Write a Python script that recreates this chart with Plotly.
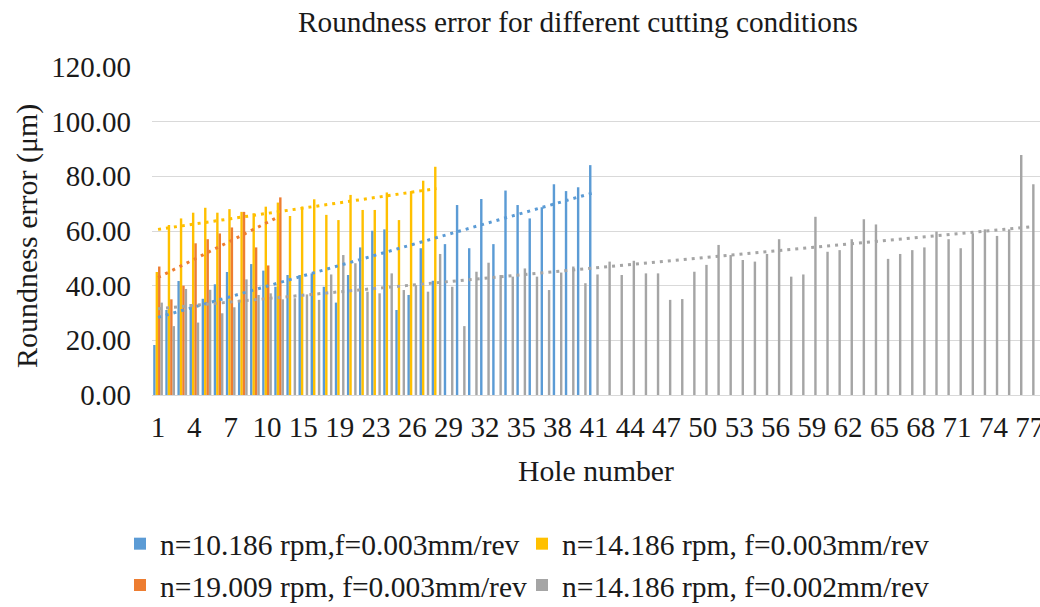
import numpy as np
import plotly.graph_objects as go

# ---- data ----
hole_labels = [str(v) for v in
               [1, 2, 3, 4, 5, 6, 7, 8, 9, 10, 12, 14, 15, 16, 17, 19, 20, 21, 23, 24, 25, 26]
               + list(range(27, 78))]

blue_name = "n=10.186 rpm,f=0.003mm/rev"
yellow_name = "n=14.186 rpm, f=0.003mm/rev"
orange_name = "n=19.009 rpm, f=0.003mm/rev"
gray_name = "n=14.186 rpm, f=0.002mm/rev"

blue_vals = [18.3, 31.1, 41.7, 33.3, 35.2, 40.5, 45.0, 34.8, 47.9, 45.5, 39.6, 43.9,
             43.9, 44.5, 39.6, 33.8, 43.9, 54.0, 60.1, 60.6, 31.1, 36.6, 53.7, 41.8,
             55.2, 69.5, 53.7, 71.7, 55.2, 74.8, 69.5, 64.6, 68.7, 77.1, 74.6, 76.0, 84.1]

yellow_vals = [45.0, 62.2, 64.6, 66.7, 68.5, 66.7, 68.0, 67.0, 66.5, 68.9, 70.4, 65.5,
               68.9, 71.6, 65.9, 64.0, 73.2, 67.7, 67.7, 74.1, 64.0, 74.6, 78.4, 83.5]

orange_vals = [47.0, 35.0, 40.0, 55.5, 57.0, 59.1, 61.3, 67.0, 54.0, 47.4, 72.3]

gray_vals = [33.8, 25.2, 38.8, 26.5, 38.5, 29.9, 32.1, 42.3, 36.6, 37.2, 35.0, 35.4,
             36.8, 34.8, 44.1, 51.2, 48.2, 37.8, 37.2, 44.5, 38.4, 40.2, 37.8, 51.6,
             39.6, 25.2, 45.1, 48.4, 43.9, 43.3, 46.3, 43.3, 38.4, 44.8, 47.0, 40.9,
             44.1, 48.8, 43.9, 49.1, 44.5, 44.5, 34.8, 35.1, 45.1, 47.6, 54.9, 51.2,
             49.4, 48.8, 51.6, 57.0, 43.3, 44.1, 65.2, 52.4, 53.0, 57.0, 64.3, 62.4,
             49.8, 51.6, 53.0, 54.0, 59.8, 57.0, 53.7, 59.1, 60.6, 58.2, 60.6, 87.8, 77.1]

y_ticks = [0, 20, 40, 60, 80, 100, 120]

# (name, values, colour, legend column)
series = [
    (blue_name, blue_vals, "#5B9BD5", "legend"),
    (yellow_name, yellow_vals, "#FFC000", "legend2"),
    (orange_name, orange_vals, "#ED7D31", "legend"),
    (gray_name, gray_vals, "#A5A5A5", "legend2"),
]

FONT = "Liberation Serif"
TXT = "#1a1a1a"

fig = go.Figure()
for name, vals, color, leg in series:
    fig.add_trace(go.Bar(
        x=hole_labels[:len(vals)], y=vals, name=name, legend=leg,
        marker=dict(color=color, line=dict(width=0)),
    ))

# linear trend lines (dotted)
for name, vals, color, leg in series:
    n = len(vals)
    idx = np.arange(n)
    k, b = np.polyfit(idx, np.array(vals), 1)
    fig.add_trace(go.Scatter(
        x=[hole_labels[0], hole_labels[n - 1]],
        y=[b, b + k * (n - 1)],
        mode="lines", showlegend=False, hoverinfo="skip",
        line=dict(color=color, width=3, dash="3px,5px"),
    ))

legend_common = dict(orientation="v", xref="container", yref="container",
                     xanchor="left", yanchor="top", traceorder="normal",
                     font=dict(family=FONT, size=29.5, color=TXT),
                     bgcolor="rgba(0,0,0,0)")

fig.update_layout(
    width=1040, height=607,
    margin=dict(l=152, r=0, t=67, b=212, autoexpand=False),
    paper_bgcolor="white", plot_bgcolor="white",
    barmode="group", bargap=0.2, bargroupgap=0,
    font=dict(family=FONT, color=TXT, size=29),
    title=dict(text="Roundness error for different cutting conditions",
               x=578 / 1040, xanchor="center", xref="container",
               y=1 - 22 / 607, yanchor="middle", yref="container",
               font=dict(family=FONT, size=29.3, color=TXT)),
    legend=dict(x=120 / 1040, y=1 - 518 / 607, **legend_common),
    legend2=dict(x=522 / 1040, y=1 - 518 / 607, **legend_common),
    showlegend=True,
)

# y-axis title as a rotated text (left of the tick labels)
fig.add_annotation(
    text="Roundness error (μm)", textangle=-90, showarrow=False,
    xref="paper", yref="paper", x=(27 - 152) / 888, y=(395 - 236) / 328,
    xanchor="center", yanchor="middle",
    font=dict(family=FONT, size=30, color=TXT),
)

fig.update_xaxes(
    type="category", categoryorder="array", categoryarray=hole_labels,
    range=[-0.5, 72.85],
    tickmode="array", tickvals=hole_labels[::3], ticktext=hole_labels[::3],
    tickangle=0,
    showline=True, linecolor="#D9D9D9", linewidth=1,
    showgrid=False, ticks="", ticklabelstandoff=6,
    tickfont=dict(family=FONT, size=29, color=TXT),
    title=dict(text="Hole number", standoff=18,
               font=dict(family=FONT, size=29.7, color=TXT)),
)
fig.update_yaxes(
    range=[0, 120], tickmode="array", tickvals=y_ticks,
    ticktext=[f"{v:.2f}" for v in y_ticks],
    showgrid=True, gridcolor="#D9D9D9", gridwidth=1,
    zeroline=False, showline=False, ticks="", ticklabelstandoff=20,
    tickfont=dict(family=FONT, size=29, color=TXT),
)

fig.write_html("out.html")
